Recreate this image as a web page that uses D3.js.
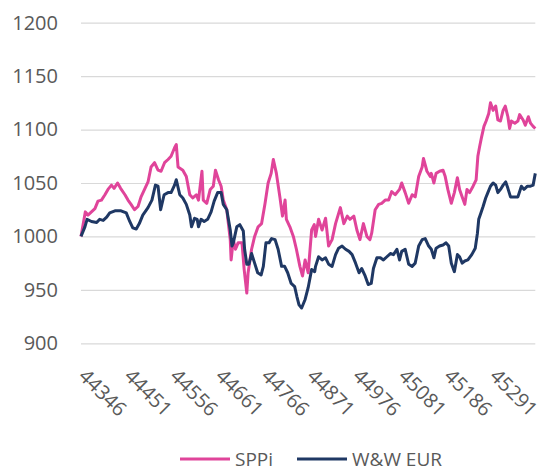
<!DOCTYPE html>
<html>
<head>
<meta charset="utf-8">
<script src="https://cdn.jsdelivr.net/npm/d3@7"></script>
<style>
  html, body { margin: 0; padding: 0; background: #fff; }
  svg { display: block; font-family: "Open Sans", "Liberation Sans", sans-serif; }
</style>
</head>
<body>
<div id="chart"></div>
<script>
// data (x = Excel date serials)
const sppiDays = [44346, 44356, 44362, 44370, 44378, 44385, 44393, 44401, 44408, 44416, 44422, 44430, 44437, 44447, 44454, 44461, 44469, 44477, 44484, 44492, 44500, 44507, 44515, 44523, 44530, 44538, 44546, 44553, 44561, 44565, 44569, 44580, 44588, 44596, 44603, 44611, 44616, 44624, 44627, 44635, 44643, 44650, 44655, 44662, 44668, 44673, 44681, 44689, 44691, 44696, 44701, 44707, 44716, 44721, 44727, 44730, 44738, 44745, 44753, 44761, 44769, 44776, 44783, 44788, 44795, 44803, 44809, 44815, 44818, 44826, 44834, 44841, 44849, 44855, 44861, 44868, 44876, 44882, 44885, 44892, 44900, 44908, 44915, 44923, 44931, 44942, 44950, 44958, 44964, 44973, 44980, 44987, 44995, 45003, 45010, 45014, 45022, 45030, 45037, 45045, 45053, 45060, 45068, 45078, 45083, 45091, 45099, 45107, 45114, 45122, 45130, 45133, 45141, 45149, 45151, 45157, 45162, 45170, 45178, 45183, 45189, 45197, 45204, 45211, 45216, 45222, 45228, 45233, 45239, 45247, 45254, 45258, 45262, 45266, 45272, 45277, 45283, 45287, 45293, 45299, 45304, 45310, 45316, 45321, 45327, 45331, 45335, 45343, 45350, 45354, 45362, 45367, 45374, 45379, 45385, 45390];
const sppiValues = [1000, 1023, 1020, 1023, 1026, 1033, 1034, 1039, 1044, 1048, 1045, 1050, 1045, 1039, 1034, 1030, 1025, 1028, 1037, 1044, 1051, 1065, 1069, 1062, 1061, 1069, 1072, 1075, 1083, 1086, 1065, 1062, 1056, 1039, 1036, 1039, 1034, 1061, 1034, 1031, 1044, 1047, 1062, 1053, 1047, 1034, 1025, 997, 978, 997, 988, 994, 994, 969, 947, 966, 988, 1000, 1009, 1012, 1031, 1050, 1059, 1072, 1059, 1037, 1019, 1034, 1016, 1009, 1000, 988, 972, 963, 978, 966, 1006, 1011, 1000, 1016, 1006, 1017, 991, 997, 1012, 1027, 1012, 1019, 1016, 1019, 1006, 997, 1012, 1000, 997, 1003, 1025, 1030, 1031, 1034, 1034, 1042, 1039, 1044, 1050, 1041, 1031, 1039, 1037, 1056, 1065, 1073, 1061, 1056, 1059, 1050, 1059, 1061, 1062, 1056, 1044, 1031, 1041, 1055, 1044, 1037, 1030, 1044, 1041, 1047, 1053, 1075, 1084, 1092, 1103, 1108, 1115, 1125, 1118, 1122, 1109, 1108, 1118, 1122, 1112, 1101, 1108, 1106, 1108, 1114, 1109, 1104, 1112, 1106, 1103, 1101];

const wwDays = [44346, 44355, 44360, 44370, 44382, 44389, 44397, 44405, 44412, 44424, 44438, 44450, 44458, 44465, 44473, 44480, 44488, 44500, 44509, 44517, 44523, 44529, 44537, 44546, 44553, 44561, 44565, 44573, 44580, 44588, 44596, 44600, 44607, 44613, 44616, 44622, 44629, 44637, 44645, 44652, 44660, 44668, 44673, 44681, 44689, 44693, 44696, 44704, 44711, 44719, 44722, 44727, 44732, 44738, 44745, 44752, 44760, 44765, 44771, 44778, 44784, 44792, 44799, 44807, 44814, 44821, 44829, 44837, 44842, 44847, 44853, 44861, 44868, 44876, 44883, 44885, 44892, 44900, 44908, 44915, 44923, 44931, 44938, 44946, 44954, 44962, 44969, 44977, 44985, 44991, 44999, 45006, 45013, 45018, 45026, 45034, 45041, 45049, 45057, 45064, 45072, 45078, 45083, 45091, 45099, 45107, 45114, 45122, 45130, 45137, 45145, 45151, 45157, 45162, 45170, 45178, 45185, 45191, 45197, 45204, 45211, 45216, 45222, 45228, 45235, 45244, 45252, 45257, 45260, 45265, 45270, 45276, 45281, 45287, 45293, 45299, 45304, 45310, 45316, 45322, 45327, 45333, 45343, 45350, 45358, 45364, 45372, 45379, 45385, 45390];
const wwValues = [1000, 1009, 1016, 1014, 1013, 1016, 1015, 1018, 1022, 1024, 1024, 1022, 1014, 1008, 1007, 1012, 1020, 1027, 1034, 1048, 1047, 1025, 1039, 1041, 1041, 1048, 1053, 1039, 1036, 1030, 1020, 1009, 1017, 1016, 1009, 1016, 1014, 1016, 1023, 1033, 1041, 1041, 1030, 1025, 1006, 991, 994, 1009, 1011, 1005, 988, 974, 974, 984, 975, 966, 964, 972, 994, 994, 998, 997, 988, 972, 972, 966, 956, 953, 944, 936, 933, 941, 952, 969, 967, 972, 981, 978, 980, 974, 972, 983, 989, 991, 988, 986, 983, 975, 966, 970, 963, 955, 956, 970, 980, 980, 978, 981, 984, 983, 988, 978, 986, 988, 974, 972, 975, 991, 997, 998, 991, 988, 980, 989, 991, 992, 994, 991, 975, 967, 983, 981, 975, 977, 978, 983, 989, 1003, 1016, 1022, 1028, 1036, 1041, 1047, 1050, 1048, 1041, 1044, 1048, 1051, 1045, 1037, 1037, 1037, 1047, 1044, 1047, 1047, 1048, 1059];

const yTicks = [900, 950, 1000, 1050, 1100, 1150, 1200];
const xTicks = [44346, 44451, 44556, 44661, 44766, 44871, 44976, 45081, 45186, 45291];
const seriesNames = ["SPPi", "W&W EUR"];
const seriesColors = ["#E0449A", "#1F3864"];

const W = 544, H = 472;
const plotLeft = 81, plotRight = 535.3, plotTop = 22.7, plotBottom = 343.3;

const svg = d3.select("#chart").append("svg")
  .attr("width", W)
  .attr("height", H);

const x = d3.scaleLinear().domain([44346, 45390]).range([plotLeft, plotRight]);
const y = d3.scaleLinear().domain([900, 1200]).range([plotBottom, plotTop]);

/* gridlines + y labels */
const yAxis = svg.append("g")
  .attr("transform", `translate(${plotLeft},0)`)
  .call(d3.axisLeft(y).tickValues(yTicks).tickSize(-(plotRight - plotLeft)).tickPadding(23).tickFormat(d3.format("d")));
yAxis.select(".domain").remove();
yAxis.selectAll("line").attr("stroke", "#D9D9D9").attr("stroke-width", 1.2);
yAxis.selectAll("text")
  .attr("fill", "#595959")
  .style("font-size", "20px")
  .style("font-family", "'Open Sans', 'Liberation Sans', sans-serif");

/* x labels, rotated */
const xAxis = svg.append("g")
  .attr("transform", `translate(0,${plotBottom})`)
  .call(d3.axisBottom(x).tickValues(xTicks).tickSize(0).tickFormat(d3.format("d")));
xAxis.select(".domain").remove();
xAxis.selectAll("text")
  .attr("fill", "#595959")
  .style("font-size", "20px")
  .style("font-family", "'Open Sans', 'Liberation Sans', sans-serif")
  .attr("text-anchor", "start")
  .attr("x", 0)
  .attr("y", 0)
  .attr("dy", "0.35em")
  .attr("transform", "translate(1,29) rotate(45)");

/* lines */
const line = d3.line()
  .x(d => x(d[0]))
  .y(d => y(d[1]));

const series = [
  d3.zip(sppiDays, sppiValues),
  d3.zip(wwDays, wwValues)
];

series.forEach((s, i) => {
  svg.append("path")
    .datum(s)
    .attr("fill", "none")
    .attr("stroke", seriesColors[i])
    .attr("stroke-width", 3)
    .attr("stroke-linejoin", "round")
    .attr("d", line);
});

/* legend */
const legendX = [180, 297];
const legend = svg.append("g");
seriesNames.forEach((name, i) => {
  legend.append("line")
    .attr("x1", legendX[i]).attr("x2", legendX[i] + 50)
    .attr("y1", 459).attr("y2", 459)
    .attr("stroke", seriesColors[i])
    .attr("stroke-width", 3);
  legend.append("text")
    .attr("x", legendX[i] + 55)
    .attr("y", 459)
    .attr("dy", "0.35em")
    .attr("fill", "#595959")
    .style("font-size", "19px")
    .text(name);
});
</script>
</body>
</html>
